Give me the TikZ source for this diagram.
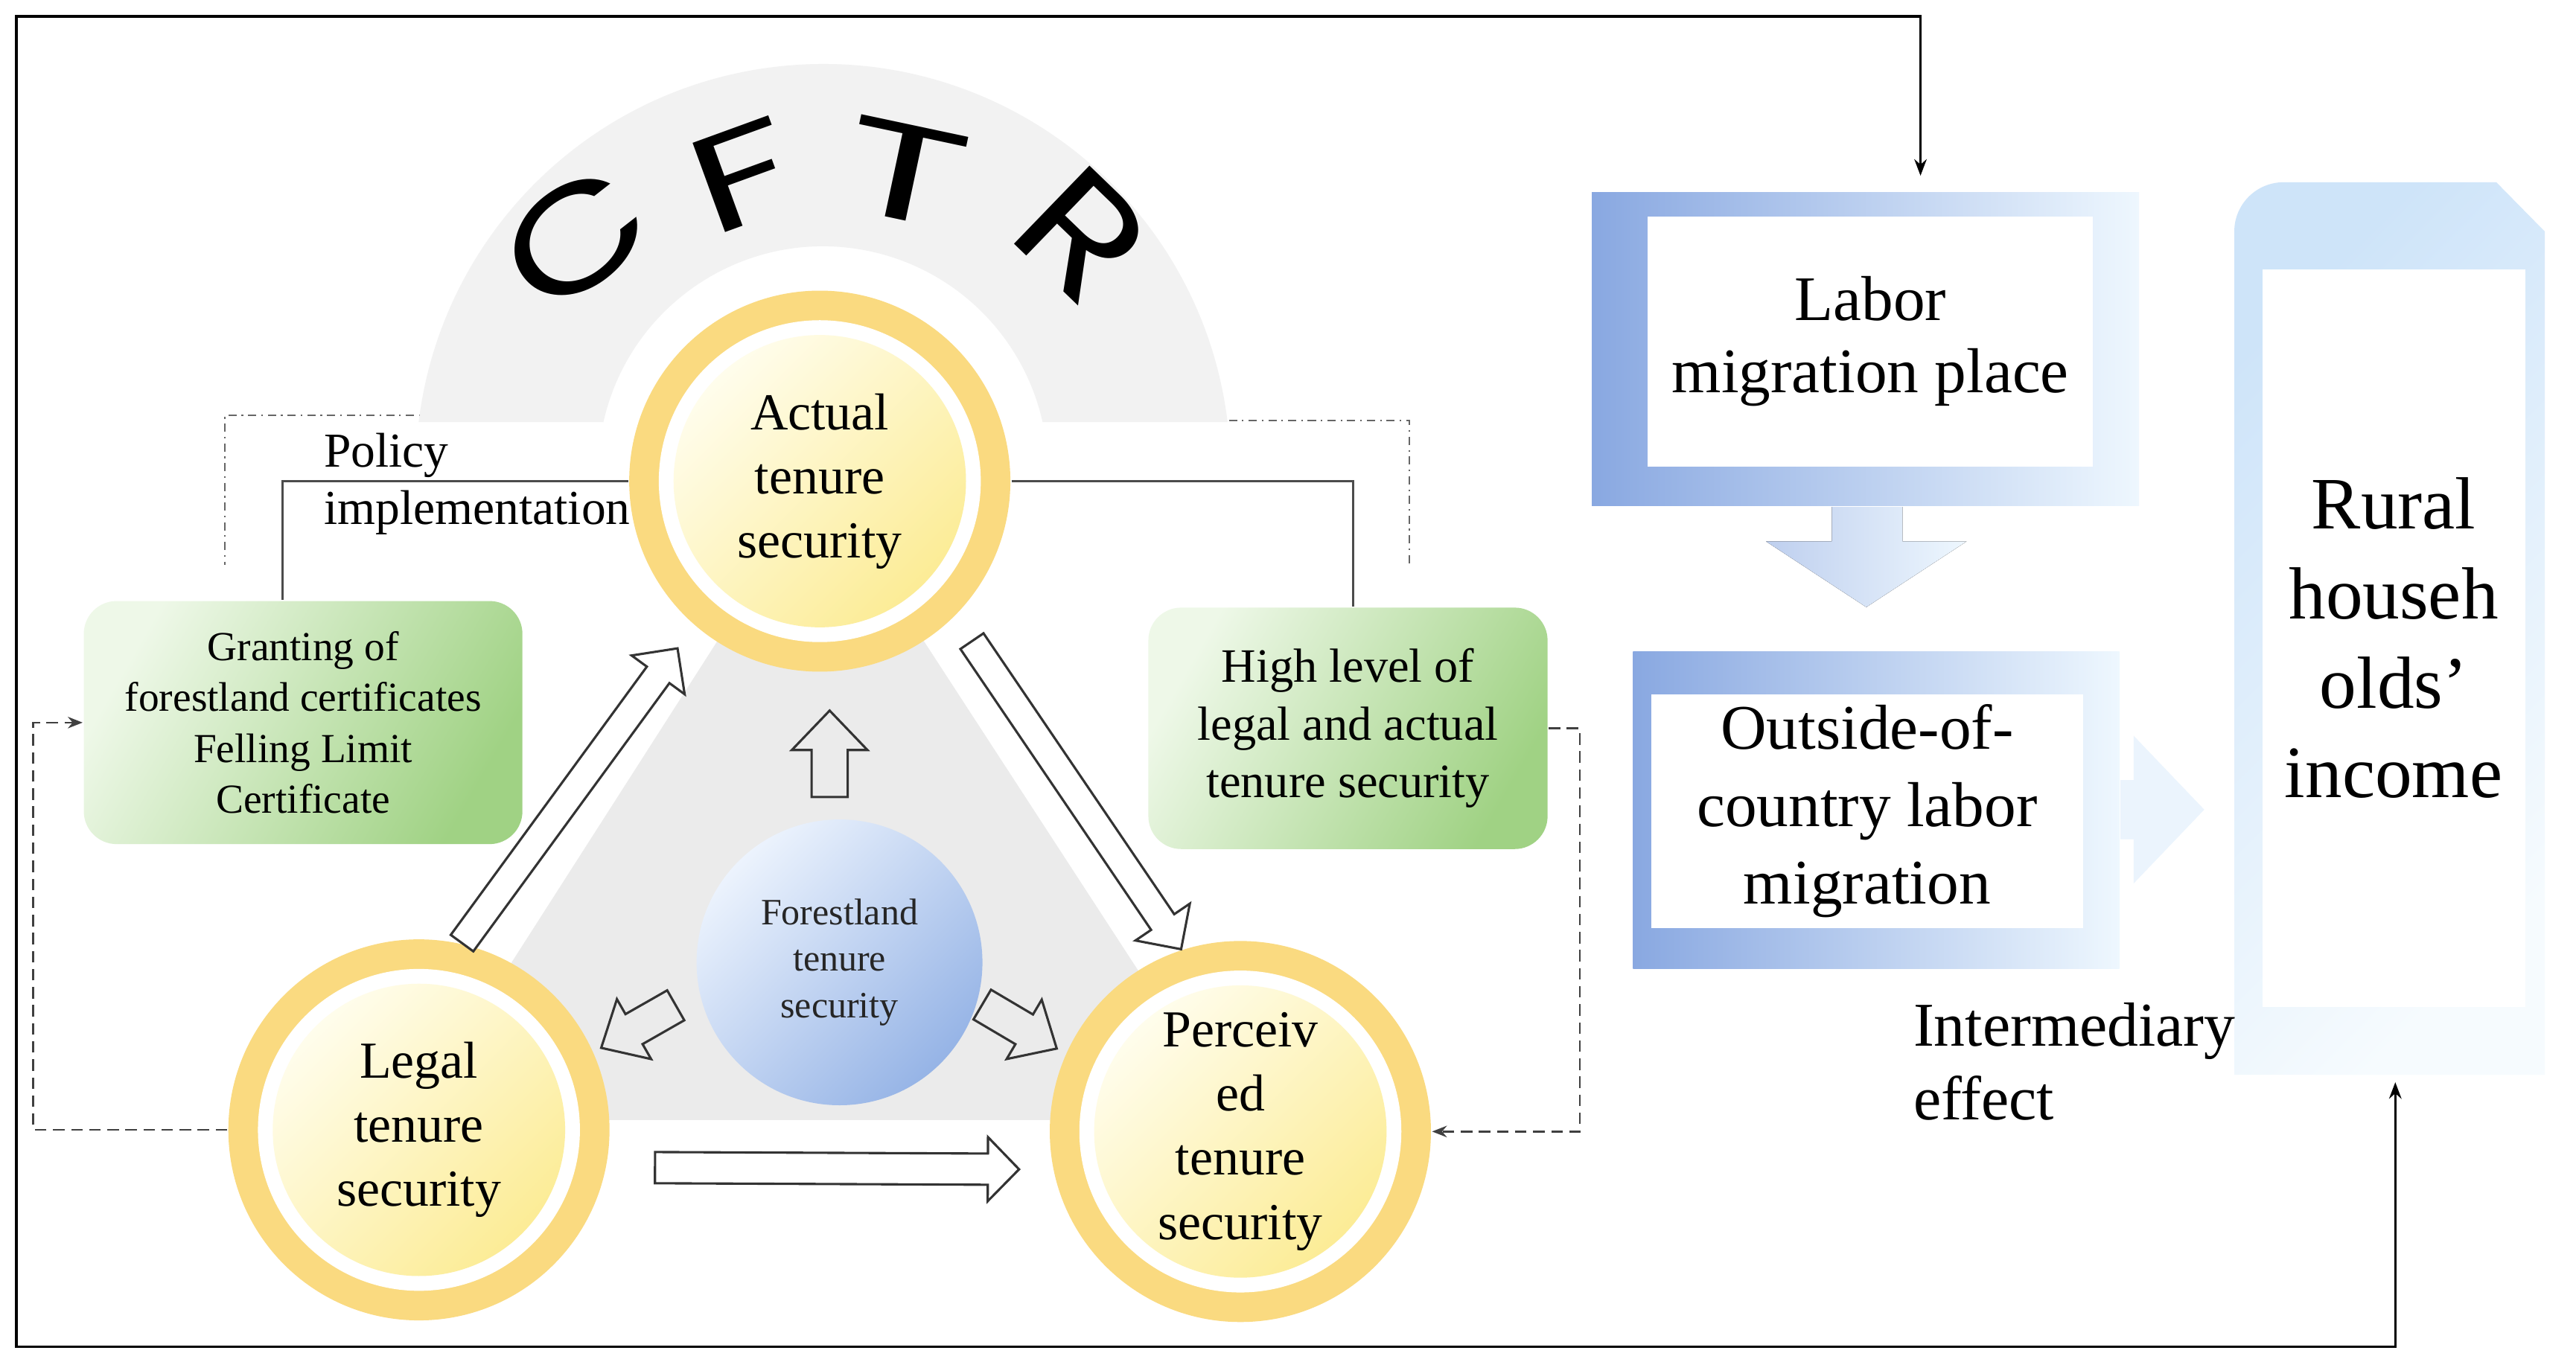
\documentclass[tikz,border=0pt]{standalone}
\usepackage{fontspec}
\setmainfont{Liberation Serif}
\newfontfamily\cftrfont{Poppins}
\usetikzlibrary{calc,arrows.meta,positioning}

\definecolor{ringyel}{RGB}{250,218,128}
\definecolor{coreA}{RGB}{255,253,236}
\definecolor{coreB}{RGB}{252,236,150}
\definecolor{leafA}{RGB}{238,248,232}
\definecolor{leafB}{RGB}{160,210,132}
\definecolor{skyA}{RGB}{137,168,225}
\definecolor{skyB}{RGB}{238,247,254}
\definecolor{paleA}{RGB}{206,228,249}
\definecolor{paleB}{RGB}{246,251,254}
\definecolor{ballA}{RGB}{236,243,253}
\definecolor{ballB}{RGB}{150,180,230}
\definecolor{archgray}{RGB}{242,242,242}
\definecolor{trigray}{RGB}{235,235,235}

\newcommand{\hollowarrow}[6][]{%
  \coordinate (ha-n) at ($(#3)!#6!(#2)$);
  \draw[arrowline,#1] ($(#2)!#4!90:(#3)$) -- ($(ha-n)!#4!90:(#3)$) -- ($(ha-n)!#5!90:(#3)$) -- (#3)
    -- ($(ha-n)!#5!-90:(#3)$) -- ($(ha-n)!#4!-90:(#3)$) -- ($(#2)!#4!-90:(#3)$) -- cycle;}

\begin{document}
\begin{tikzpicture}[x=0.1mm,y=0.1mm,
  tenure/.style={circle,minimum size=23.2mm,inner sep=0pt,fill=ringyel,align=center,
    font=\fontsize{9}{11.1}\selectfont,
    path picture={\fill[white] (path picture bounding box.center) circle[radius=9.8mm];
      \shade[top color=coreA,bottom color=coreB,shading angle=45] (path picture bounding box.center) circle[radius=8.9mm];}},
  leaf/.style={rounded corners=2mm,top color=leafA,bottom color=leafB,shading angle=60,align=center,inner sep=0pt},
  skyframe/.style={left color=skyA,right color=skyB,inner sep=0pt},
  whitebox/.style={fill=white,align=center,inner sep=0pt,font=\fontsize{11}{12.5}\selectfont},
  arrowline/.style={draw=black!80,fill=white,line width=0.4pt,line join=miter},
  linkline/.style={draw=black!70,line width=0.4pt},
  dashlink/.style={draw=black!75,line width=0.35pt,dash pattern=on 0.7mm off 0.4mm,-{Stealth[length=0.9mm,width=0.7mm]}},
  dotline/.style={draw=black!60,line width=0.3pt,dash pattern=on 0.5mm off 0.3mm on 0.1mm off 0.3mm},
  frameline/.style={draw=black,line width=0.45pt}]

\useasboundingbox (0,0) rectangle (1568,829);
\fill[white] (0,0) rectangle (1568,829);

\draw[dotline] (300,576) -- (137,576) -- (137,485);
\draw[dotline] (700,573) -- (858,573) -- (858,485);
\fill[archgray] (747.2,572) arc[start angle=6.95,end angle=173.05,radius=248] -- (367.3,572)
  arc[start angle=167.35,end angle=12.65,radius=137] -- cycle;
\fill[trigray] (499,536) -- (250,147) -- (752,147) -- cycle;

\foreach \ch/\x/\y/\rot/\sz/\xs in {C/350/684/38/25/1.3,F/452/722/20/23.6/1.5,T/551/724/-12/23.6/1.7,R/659/686/-44/27/1.2}
  \node[font={\cftrfont\fontsize{\sz}{\sz}\selectfont},rotate=\rot,xscale=\xs,inner sep=0pt] (cftr-\ch) at (\x,\y) {\ch};

\node[tenure] (actual) at (499,536) {Actual\\tenure\\security};
\node[tenure] (legal) at (255,141) {Legal\\tenure\\security};
\node[tenure] (perceived) at (755,140) {Perceiv\\ed\\tenure\\security};
\node[circle,minimum size=17.4mm,inner sep=0pt,top color=ballA,bottom color=ballB,shading angle=45,
  align=center,text=black!85,font=\fontsize{6.45}{8}\selectfont] (forest) at (511,243) {Forestland\\tenure\\security};

\node[leaf,minimum width=26.7mm,minimum height=14.8mm,font=\fontsize{7.15}{8.8}\selectfont] (grant) at (184.5,389)
  {Granting of\\forestland certificates\\Felling Limit\\Certificate};
\node[leaf,minimum width=24.3mm,minimum height=14.7mm,font=\fontsize{8.3}{10}\selectfont] (high) at (820.5,385.5)
  {High level of\\legal and actual\\tenure security};

\draw[linkline] (actual.west) -| ([xshift=-1.25mm]grant.north);
\draw[linkline] (actual.east) -| ([xshift=0.3mm]high.north);
\node[anchor=north west,inner sep=0pt,align=left,font=\fontsize{8.45}{10}\selectfont] (policy) at (196.5,566) {Policy\\implementation};

\draw[dashlink] (legal.west) -- ++(-118,0) |- (grant.west);
\draw[dashlink] (high.east) -- ++(19,0) |- (perceived.east);

\coordinate (la-s) at (legal.77);
\coordinate (la-e) at ($(actual.229)!1.7mm!(legal.77)$);
\coordinate (ap-s) at ($(actual.315)!1.8mm!(perceived.108)$);
\coordinate (ap-e) at (perceived.108);
\coordinate (lp-s) at ([xshift=2.7mm,yshift=-2.3mm]legal.east);
\coordinate (lp-e) at ([xshift=-1.8mm,yshift=-2.3mm]perceived.west);
\coordinate (fa-s) at ([xshift=-0.6mm,yshift=1.3mm]forest.north);
\coordinate (fa-e) at ($(actual.south -| fa-s)+(0,-23)$);
\coordinate (fl-s) at ($(forest.192)!1.6mm!(legal.24)$);
\coordinate (fl-e) at ($(legal.24)!0.5mm!(forest.192)$);
\coordinate (fp-s) at ($(forest.-16)!0.3mm!(perceived.156)$);
\coordinate (fp-e) at ($(perceived.156)!0.6mm!(forest.-16)$);
\hollowarrow{la-s}{la-e}{0.85mm}{2mm}{2mm}
\hollowarrow{ap-s}{ap-e}{0.85mm}{2mm}{2mm}
\hollowarrow{lp-s}{lp-e}{0.95mm}{1.95mm}{1.9mm}
\hollowarrow[fill=trigray]{fa-s}{fa-e}{1.1mm}{2.3mm}{2.4mm}
\hollowarrow[fill=trigray]{fl-s}{fl-e}{1.05mm}{2.1mm}{2.3mm}
\hollowarrow[fill=trigray]{fp-s}{fp-e}{1.05mm}{2.1mm}{2.3mm}

\node[skyframe,minimum width=33.3mm,minimum height=19.1mm] (labfr) at (1135.5,616.5) {};
\node[whitebox,minimum width=27.1mm,minimum height=15.2mm] (labor) at (1138.5,621) {Labor\\migration place};
\fill[left color=skyA!55!white,right color=skyB] ([xshift=-2.05mm]labfr.south) -- ++(0,-21) -- ++(-40,0)
  -- ++(61,-40) -- ++(61,40) -- ++(-39,0) -- ++(0,21) -- cycle;
\node[skyframe,minimum width=29.6mm,minimum height=19.3mm] (outfr) at (1142,335.5) {};
\node[whitebox,minimum width=26.3mm,minimum height=14.2mm,font=\fontsize{11}{13.4}\selectfont] (outside) at (1136.5,335)
  {Outside-of-\\country labor\\migration};
\fill[paleA!40!white] ([yshift=1.85mm]outfr.east) -- ++(8,0) -- ++(0,27) -- ++(43,-45) -- ++(-43,-45)
  -- ++(0,27) -- ++(-8,0) -- cycle;

\shade[top color=paleA,bottom color=paleB,shading angle=45] (1360,174.5) -- (1360,688)
  arc[start angle=180,end angle=90,radius=30] -- (1519.5,718) -- (1549,688) -- (1549,174.5) -- cycle;
\node[fill=white,inner sep=0pt,minimum width=16mm,minimum height=44.9mm,align=center,
  font=\fontsize{12.8}{15.5}\selectfont] (rural) at (1457,440.5) {Rural\\househ\\olds’\\income};
\node[anchor=north west,inner sep=0pt,align=left,font=\fontsize{10.8}{12.7}\selectfont] (inter) at (1164,219) {Intermediary\\effect};

\coordinate (labin) at (1169,722);
\coordinate (rurin) at (1458,170);
\draw[frameline,{Stealth[length=1mm,width=0.75mm]}-{Stealth[length=1mm,width=0.75mm]}] (labin) |- (10,819) -- (10,9) -| (rurin);
\end{tikzpicture}
\end{document}
